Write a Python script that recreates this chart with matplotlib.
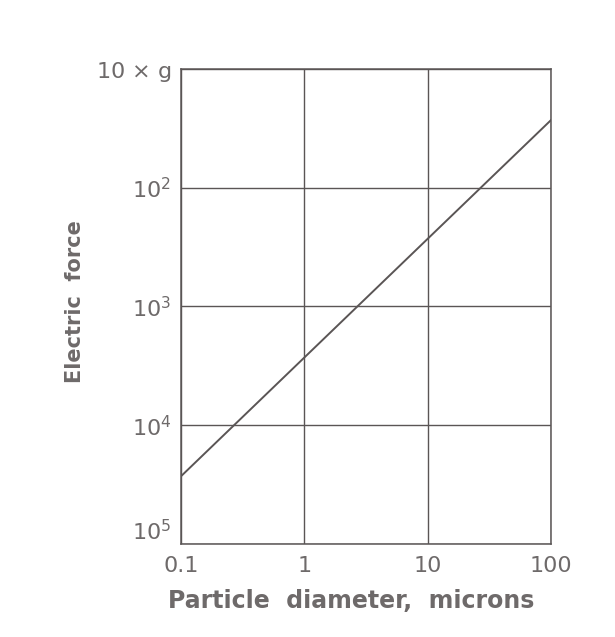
import numpy as np
import matplotlib
matplotlib.use('Agg')
import matplotlib.pyplot as plt

# --- DATA ---
diam = [0.1, 100]            # particle diameter, microns
force = [2.7e4, 27]          # electric force, multiples of g

x_ticks = [0.1, 1, 10, 100]
x_labels = ['0.1', '1', '10', '100']
y_ticks = [10, 1e2, 1e3, 1e4, 1e5]
y_labels = [r'10 $\times$ g', '10$^2$', '10$^3$', '10$^4$', '10$^5$']

ink = '#5a5555'
txt = '#6e6a6a'

plt.rcParams['font.family'] = ['DejaVu Sans']
plt.rcParams['mathtext.fontset'] = 'dejavusans'

fig = plt.figure(figsize=(6.15, 6.37), dpi=100)
ax = fig.add_axes([0.294, 0.146, 0.602, 0.746])

ax.plot(diam, force, color=ink, linewidth=1.4)

ax.set_xscale('log')
ax.set_yscale('log')
ax.set_xlim(0.1, 100)
ax.set_ylim(1e5, 10)

ax.set_xticks(x_ticks)
ax.set_xticklabels(x_labels)
ax.set_yticks(y_ticks)
ax.set_yticklabels(y_labels)
ax.minorticks_off()
ax.tick_params(length=0, labelsize=16, colors=txt)
ax.tick_params(axis='x', pad=9)
ax.tick_params(axis='y', pad=7)

# bottom y label sits just above the corner, clear of "0.1"
ax.get_yticklabels()[-1].set_verticalalignment('bottom')

ax.grid(True, color=ink, linewidth=1.0)
for s in ax.spines.values():
    s.set_color(ink)
    s.set_linewidth(1.1)

ax.set_xlabel('Particle  diameter,  microns', fontsize=17, fontweight='bold',
              color=txt)
ax.xaxis.set_label_coords(0.46, -0.095)
ax.set_ylabel('Electric  force', fontsize=15, fontweight='bold', color=txt)
ax.yaxis.set_label_coords(-0.26, 0.51)

fig.savefig('out.png', dpi=100, facecolor='white')
